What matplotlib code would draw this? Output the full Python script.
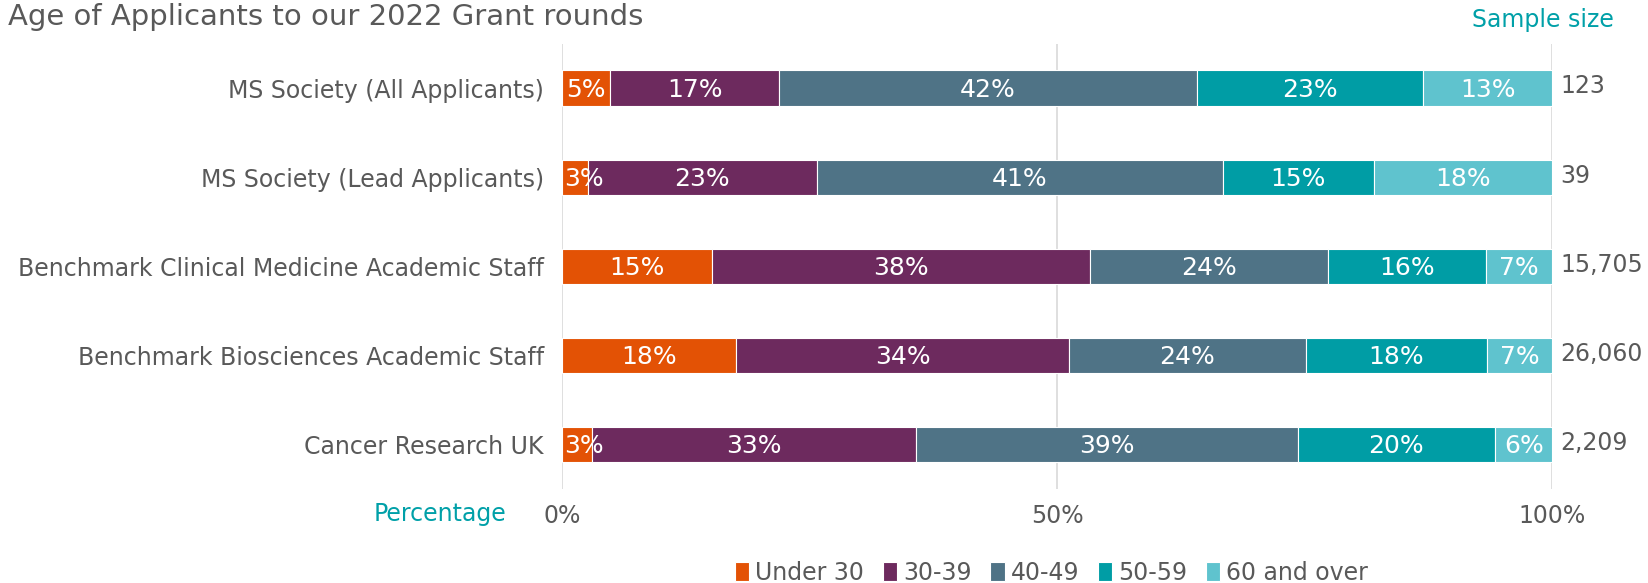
import matplotlib.pyplot as plt
import numpy as np

plt.rcParams['font.family'] = ['DejaVu Sans']

groups = ["MS Society (All Applicants)", "MS Society (Lead Applicants)",
          "Benchmark Clinical Medicine Academic Staff",
          "Benchmark Biosciences Academic Staff", "Cancer Research UK"]
age_bands = ["Under 30", "30-39", "40-49", "50-59", "60 and over"]
under_30 = [4.9, 2.6, 15.1, 17.6, 3.0]
age_30_39 = [17.0, 23.1, 38.2, 33.6, 32.7]
age_40_49 = [42.2, 41.0, 24.0, 23.9, 38.6]
age_50_59 = [22.8, 15.3, 16.0, 18.3, 19.9]
over_60 = [13.1, 18.0, 6.7, 6.6, 5.8]
sample_sizes = ["123", "39", "15,705", "26,060", "2,209"]

colors = ["#E35205", "#6D2A5E", "#4F7386", "#009DA5", "#5FC3CE"]
grey = "#595959"
teal = "#00A0A8"

fig = plt.figure(figsize=(16.48, 5.83), dpi=100)
ax = fig.add_axes([0.341, 0.161, 0.601, 0.764])

y = np.arange(len(groups))
left = np.zeros(len(groups))
series = [under_30, age_30_39, age_40_49, age_50_59, over_60]
for vals, col, name in zip(series, colors, age_bands):
    vals = np.array(vals)
    ax.barh(y, vals, left=left, height=0.4, color=col, label=name,
            edgecolor="white", linewidth=0.8, zorder=3)
    for yi, l, v in zip(y, left, vals):
        # narrow first segments: keep label inside the plot area like Excel does
        if l == 0 and v < 4:
            xpos, ha = 0.2, "left"
        else:
            xpos, ha = l + v / 2, "center"
        ax.text(xpos, yi + 0.02, f"{int(round(v))}%", ha=ha, va="center",
                color="white", fontsize=18, zorder=4)
    left += vals

for yi, s in zip(y, sample_sizes):
    ax.text(100.8, yi - 0.02, s, ha="left", va="center", color=grey, fontsize=17)

ax.set_xlim(0, 100)
ax.set_ylim(len(groups) - 0.5, -0.5)
ax.set_yticks(y)
ax.set_yticklabels(groups, fontsize=17, color=grey)
ax.set_xticks([0, 50, 100])
ax.set_xticklabels(["0%", "50%", "100%"], fontsize=17, color=grey)
ax.tick_params(axis="both", length=0)
ax.tick_params(axis="x", pad=11)
ax.tick_params(axis="y", pad=13)
ax.xaxis.grid(True, color="#D9D9D9", linewidth=1.2, zorder=0)
for sp in ax.spines.values():
    sp.set_visible(False)

fig.text(0.005, 0.97, "Age of Applicants to our 2022 Grant rounds", fontsize=21,
         color=grey, ha="left", va="center")
fig.text(0.979, 0.965, "Sample size", fontsize=17, color=teal, ha="right", va="center")
fig.text(0.307, 0.118, "Percentage", fontsize=17, color=teal, ha="right", va="center")

fig.legend(loc="center", bbox_to_anchor=(0.638, 0.018), ncol=5, frameon=False,
           fontsize=17, labelcolor=grey, handlelength=0.6, handleheight=0.9,
           handletextpad=0.25, columnspacing=0.8, borderaxespad=0)

fig.savefig("out.png", dpi=100)
